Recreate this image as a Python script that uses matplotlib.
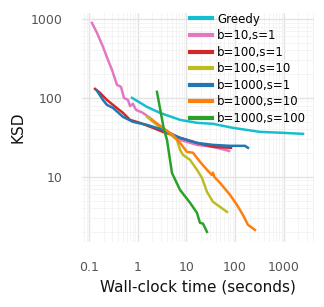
import matplotlib
matplotlib.use("Agg")
import matplotlib.pyplot as plt
from matplotlib.ticker import FixedLocator, LogLocator, NullFormatter

labels = ["Greedy", "b=10,s=1", "b=100,s=1", "b=100,s=10", "b=1000,s=1", "b=1000,s=10", "b=1000,s=100"]
colors = ["#17becf", "#e377c2", "#d62728", "#bcbd22", "#1f77b4", "#ff7f0e", "#2ca02c"]

greedy_t = [0.764, 1.55, 2.87, 7.4, 16.5, 35.2, 90.6, 324, 964, 2480]
greedy_k = [100, 76.9, 64.6, 52.7, 48.3, 46.9, 41.7, 37.1, 36.1, 35.0]

b10s1_t = [0.115, 0.146, 0.194, 0.245, 0.297, 0.376, 0.454, 0.523, 0.632, 0.695, 0.80, 0.923, 1.28, 1.79, 3.3, 7.4, 16.5, 35.2, 75]
b10s1_k = [890, 665, 443, 303, 226, 146, 138, 100, 94, 79, 84, 70.5, 64.6, 55.8, 39.4, 29.4, 25.4, 24.0, 21.3]

b100s1_t = [0.133, 0.168, 0.234, 0.311, 0.499, 0.695, 1.11, 2.06, 3.3, 7.4, 16.5, 35.2, 82.4]
b100s1_k = [130, 116, 94, 81.5, 64.6, 52.7, 48.3, 41.7, 37.1, 31.2, 26.9, 24.0, 23.3]

b100s10_t = [1.55, 2.49, 4.0, 6.41, 7.4, 8.5, 11.9, 16.5, 20.9, 26.5, 35.2, 49, 68.2]
b100s10_k = [57.5, 45.5, 37.1, 29.4, 22.0, 19.0, 16.4, 12.3, 9.7, 6.46, 4.83, 4.17, 3.6]

b1000s1_t = [0.146, 0.194, 0.234, 0.311, 0.499, 0.80, 1.55, 3.3, 7.4, 16.5, 35.2, 78.6, 160, 184]
b1000s1_k = [123, 94, 81.5, 74.7, 57.5, 49.7, 45.5, 39.4, 31.2, 26.9, 25.4, 24.7, 24.7, 23.3]

b1000s10_t = [1.97, 3.3, 5.3, 7.4, 10.3, 13.7, 19.0, 26.5, 33.0, 35.2, 37.5, 49, 78.6, 109, 145, 184, 256]
b1000s10_k = [52.7, 41.7, 34.0, 26.9, 20.7, 20.2, 15.5, 12.3, 10.6, 11.3, 10.0, 8.4, 5.92, 4.42, 3.30, 2.47, 2.13]

b1000s100_t = [2.49, 3.47, 4.0, 5.06, 7.4, 11.9, 16.5, 19.0, 21.9, 26.5]
b1000s100_k = [119, 39.4, 29.4, 11.2, 6.84, 4.69, 3.50, 2.62, 2.56, 2.01]

series = [
    (greedy_t, greedy_k),
    (b10s1_t, b10s1_k),
    (b100s1_t, b100s1_k),
    (b100s10_t, b100s10_k),
    (b1000s1_t, b1000s1_k),
    (b1000s10_t, b1000s10_k),
    (b1000s100_t, b1000s100_k),
]

xticks = [0.1, 1, 10, 100, 1000]
xticklabels = ["0.1", "1", "10", "100", "1000"]
yticks = [10, 100, 1000]
yticklabels = ["10", "100", "1000"]

fig = plt.figure(figsize=(3.24, 3.07), dpi=100)
ax = fig.add_axes([0.253, 0.212, 0.716, 0.746])

for (t, k), lab, c in zip(series, labels, colors):
    ax.plot(t, k, color=c, lw=1.8, label=lab)

ax.set_xscale("log")
ax.set_yscale("log")
ax.set_xlim(10 ** -1.144, 10 ** 3.62)
ax.set_ylim(1.5, 10 ** 3.076)

ax.xaxis.set_major_locator(FixedLocator(xticks))
ax.set_xticklabels(xticklabels)
ax.yaxis.set_major_locator(FixedLocator(yticks))
ax.set_yticklabels(yticklabels)
ax.xaxis.set_minor_locator(LogLocator(base=10, subs=range(2, 10), numticks=20))
ax.yaxis.set_minor_locator(LogLocator(base=10, subs=range(2, 10), numticks=20))
ax.xaxis.set_minor_formatter(NullFormatter())
ax.yaxis.set_minor_formatter(NullFormatter())

ax.grid(which="major", color="#e3e3e3", lw=1.0)
ax.grid(which="minor", color="#f2f2f2", lw=0.6)
ax.set_axisbelow(True)
for s in ax.spines.values():
    s.set_visible(False)
ax.tick_params(which="both", length=0, pad=14, labelsize=9, labelcolor="#555555")

ax.set_xlabel("Wall-clock time (seconds)", fontsize=11, color="#111111")
ax.set_ylabel("KSD", fontsize=11, color="#111111")

leg = ax.legend(loc="upper right", bbox_to_anchor=(1.0, 1.035), frameon=False, fontsize=8.5,
                handlelength=1.85, labelspacing=0.3, borderaxespad=0.25, handletextpad=0.45)
for h in leg.get_lines():
    h.set_linewidth(3)

fig.savefig("out.png", dpi=100, facecolor="white")
